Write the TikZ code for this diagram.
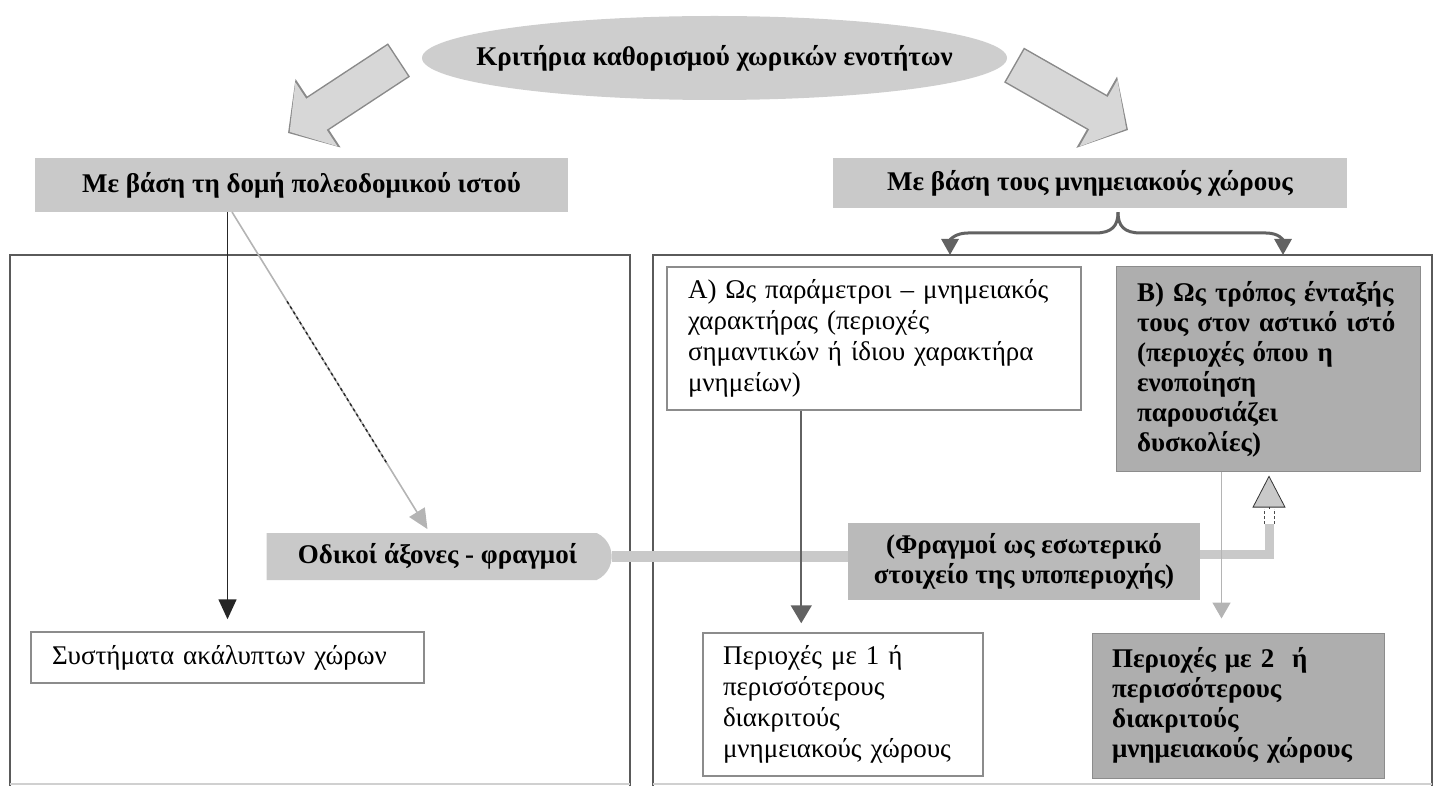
\documentclass[tikz,border=0pt]{standalone}
\usepackage{fontspec}
\setmainfont{Liberation Serif}
\usetikzlibrary{positioning,calc,shapes.geometric,shapes.misc,arrows.meta}
\definecolor{ellgray}{HTML}{CECECE}
\definecolor{hdrgray}{HTML}{C9C9C9}
\definecolor{arrowfill}{HTML}{D7D7D7}
\definecolor{arrowedge}{HTML}{8A8A8A}
\definecolor{frameedge}{HTML}{5A5A5A}
\definecolor{framefaint}{HTML}{D0D0D0}
\definecolor{boxedge}{HTML}{8C8C8C}
\definecolor{boxdark}{HTML}{AEAEAE}
\definecolor{boxmid}{HTML}{BABABA}
\definecolor{barfill}{HTML}{C9C9C9}
\definecolor{lineA}{HTML}{626262}
\definecolor{lineB}{HTML}{B4B4B4}

\begin{document}
\begin{tikzpicture}[x=1pt,y=-1pt,>=Stealth,
    every node/.style={inner sep=0pt,font=\fontsize{27}{31}\selectfont},
    boldtext/.style={font=\fontsize{27}{30}\selectfont\bfseries},
    hdr/.style={rectangle,fill=hdrgray,boldtext},
    plainbox/.style={rectangle,draw=boxedge,line width=1.5pt,fill=white,align=left},
    darkbox/.style={rectangle,draw=boxedge,line width=1pt,fill=boxdark,align=left,boldtext},
    frame/.style={draw=frameedge,line width=2pt},
    bar/.style={draw=barfill,line width=11pt},
    tipline/.style={line width=1.6pt,shorten >=1pt},
    bigout/.style={draw=arrowedge,line width=40pt,-{Triangle[width=80pt,length=36pt]}},
    bigin/.style={draw=arrowfill,line width=37pt,shorten <=1.5pt,shorten >=2pt,
        -{Triangle[width=75pt,length=32pt]}}]

    \useasboundingbox (0,0) rectangle (1437,786);

    \draw[frame] (10,786) -- (10,255) -- (630,255) -- (630,786);
    \draw[frame] (653,786) -- (653,255) -- (1432,255) -- (1432,786);
    \draw[draw=framefaint,line width=1.5pt] (10,784) -- (630,784) (653,784) -- (1432,784);

    \node[ellipse,fill=ellgray,minimum width=585,minimum height=84,
        label={[boldtext]center:Κριτήρια καθορισμού χωρικών ενοτήτων}] (crit) at (714.5,58) {};

    \node[hdr,minimum width=533,minimum height=54] (hdrL) at (301.5,185)
        {Με βάση τη δομή πολεοδομικού ιστού};
    \node[hdr,minimum width=514,minimum height=50] (hdrR) at (1090,183)
        {Με βάση τους μνημειακούς χώρους};

    \node[plainbox,text width=372,inner xsep=21,minimum height=143] (boxA) at (874,338.5)
        {Α) Ως παράμετροι – μνημειακός\\χαρακτήρας (περιοχές\\σημαντικών ή ίδιου χαρακτήρα\\μνημείων)};
    \node[darkbox,text width=262,inner xsep=21,minimum height=204] (boxB) at (1268,369)
        {Β) Ως τρόπος ένταξής\\τους στον αστικό ιστό\\(περιοχές όπου η\\ενοποίηση\\παρουσιάζει\\δυσκολίες)};

    \node[rounded rectangle,rounded rectangle left arc=none,rounded rectangle arc length=130,
        fill=hdrgray,minimum width=345,minimum height=47,boldtext] (odikoi) at (437.5,556.5)
        {Οδικοί άξονες - φραγμοί};
    \node[rectangle,fill=boxmid,minimum width=352,minimum height=77,align=center,boldtext] (fragm)
        at (1024,561.5) {(Φραγμοί ως εσωτερικό\\στοιχείο της υποπεριοχής)};

    \node[plainbox,text width=351,inner xsep=21,minimum height=51] (systL) at (227.5,657.5)
        {Συστήματα ακάλυπτων χώρων};
    \node[plainbox,text width=240,inner xsep=20,minimum height=143] (per1) at (843,704.5)
        {Περιοχές με 1 ή\\περισσότερους\\διακριτούς\\μνημειακούς χώρους};
    \node[darkbox,text width=252,inner xsep=20,minimum height=145] (per2) at (1238,705.5)
        {Περιοχές με 2~ ή\\περισσότερους\\διακριτούς\\μνημειακούς χώρους};

    \coordinate (tailL) at (399,60);
    \coordinate (tipL) at (288,133);
    \coordinate (tailR) at (1014,65);
    \coordinate (tipR) at (1128,130);
    \draw[bigout] (tailL) -- (tipL);
    \draw[bigin] (tailL) -- (tipL);
    \draw[bigout] (tailR) -- (tipR);
    \draw[bigin] (tailR) -- (tipR);

    \coordinate (brtop) at ($(hdrR.south)+(28,4)$);
    \draw[draw=lineA,line width=3pt,-{Triangle[width=17pt,length=16pt]}] (brtop)
        .. controls (1118,226) and (1112,233) .. (1095,233) -- (968,233)
        .. controls (955,233) and (950,240) .. (950,255);
    \draw[draw=lineA,line width=3pt,-{Triangle[width=17pt,length=16pt]}] (brtop)
        .. controls (1118,226) and (1124,233) .. (1141,233) -- (1266,233)
        .. controls (1279,233) and (1283,240) .. (1283,255);

    \draw[tipline,draw=black!85,-{Triangle[width=18pt,length=20pt]}]
        (systL.north |- hdrL.south) -- ($(systL.north)+(0,-11)$);

    \coordinate (diagS) at (232,212);
    \coordinate (diagE) at (428,530);
    \draw[tipline,draw=lineB,-{Triangle[width=18pt,length=20pt]}] (diagS) -- (diagE);
    \draw[line width=1.4pt,black!85,dashed,shorten <=105pt,shorten >=78pt] (diagS) -- (diagE);

    \draw[bar] (odikoi.east) -- (fragm.west |- odikoi.east);
    \coordinate (upbase) at (1269,509);
    \draw[bar,line width=9pt] ($(fragm.east)+(0,-7)$) -| ($(upbase)+(0,15)$);
    \draw[draw=black!70,line width=0.7pt,densely dashed] ($(upbase)+(-5,15)$) -- ($(upbase)+(-5,0)$)
        ($(upbase)+(5,15)$) -- ($(upbase)+(5,0)$);
    \draw[draw=black!80,line width=0.8pt,-{Triangle[open,fill=barfill,width=33pt,length=32pt]}]
        (upbase) -- ($(boxB.south -| upbase)+(0,4)$);

    \draw[tipline,draw=lineA,-{Triangle[width=21pt,length=18pt]}]
        ($(boxA.south west)+(135,0)$) -- ($(per1.north west)+(99,-8)$);
    \draw[tipline,draw=lineB,-{Triangle[width=18pt,length=16pt]}]
        ($(boxB.south west)+(106,0)$) -- ($(per2.north west)+(130,-13)$);

\end{tikzpicture}
\end{document}
